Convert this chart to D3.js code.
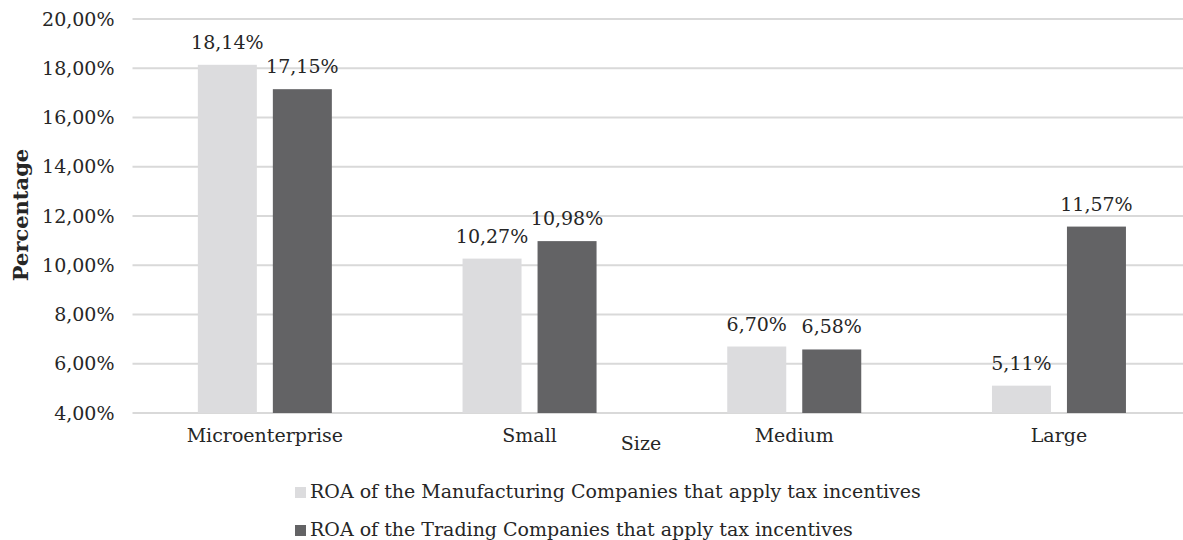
<!DOCTYPE html>
<html>
<head>
    <title>ROA by Size</title>
    <meta charset="utf-8">
    <style>
        body { margin: 0; background: #fff; }
        text { font-family: "DejaVu Serif", serif; fill: #262626; }
    </style>
</head>
<body>
<script src="https://d3js.org/d3.v7.min.js"></script>
<script>
    // Data
    const categories = ['Microenterprise', 'Small', 'Medium', 'Large'];
    const seriesNames = [
        'ROA of the Manufacturing Companies that apply tax incentives',
        'ROA of the Trading Companies that apply tax incentives'
    ];
    const manufacturing = [18.14, 10.27, 6.70, 5.11];
    const trading = [17.15, 10.98, 6.58, 11.57];
    const yTicks = [4, 6, 8, 10, 12, 14, 16, 18, 20];

    const SIZES = {
        WIDTH: 1183,
        HEIGHT: 540,
        LEFT: 132.5,
        RIGHT: 1191.3,
        TOP: 19,
        BOTTOM: 413,
        FONT: '19px'
    };
    const COLORS = ['#dcdcde', '#636365'];
    const fmt = v => v.toFixed(2).replace('.', ',') + '%';

    const svg = d3.select('body').append('svg')
        .attr('width', SIZES.WIDTH)
        .attr('height', SIZES.HEIGHT);

    // Scales
    const x0 = d3.scaleBand().domain(categories).range([SIZES.LEFT, SIZES.RIGHT]);
    const bw = x0.bandwidth();
    const x1 = d3.scaleBand().domain(d3.range(seriesNames.length))
        .range([bw / 2 - 67, bw / 2 + 67])
        .paddingInner(0.2133);
    const y = d3.scaleLinear().domain([4, 20]).range([SIZES.BOTTOM, SIZES.TOP]);

    // Gridlines
    svg.append('g').selectAll('line')
        .data(yTicks)
        .enter().append('line')
        .attr('x1', SIZES.LEFT).attr('x2', SIZES.WIDTH)
        .attr('y1', d => y(d)).attr('y2', d => y(d))
        .attr('stroke', '#d9d9d9')
        .attr('stroke-width', 2);

    // Y axis labels
    const yAxis = svg.append('g')
        .attr('transform', `translate(${SIZES.LEFT - 18},0)`)
        .call(d3.axisLeft(y).tickValues(yTicks).tickSize(0).tickPadding(0).tickFormat(fmt));
    yAxis.select('.domain').remove();
    yAxis.selectAll('text')
        .style('font-family', '"DejaVu Serif", serif')
        .style('font-size', SIZES.FONT)
        .attr('fill', '#262626');

    // X axis labels
    const xAxis = svg.append('g')
        .attr('transform', `translate(0,${SIZES.BOTTOM})`)
        .call(d3.axisBottom(x0).tickSize(0).tickPadding(16));
    xAxis.select('.domain').remove();
    xAxis.selectAll('text')
        .style('font-family', '"DejaVu Serif", serif')
        .style('font-size', SIZES.FONT)
        .attr('fill', '#262626');

    // Bars
    const rows = categories.map((c, i) => ({cat: c, values: [manufacturing[i], trading[i]]}));
    const groups = svg.append('g').selectAll('g')
        .data(rows)
        .enter().append('g')
        .attr('transform', d => `translate(${x0(d.cat)},0)`);

    groups.selectAll('rect')
        .data(d => d.values.map((v, s) => ({v, s})))
        .enter().append('rect')
        .attr('x', d => x1(d.s))
        .attr('width', x1.bandwidth())
        .attr('y', d => y(d.v))
        .attr('height', d => y(4) - y(d.v))
        .attr('fill', d => COLORS[d.s]);

    // Value labels
    groups.selectAll('text.value')
        .data(d => d.values.map((v, s) => ({v, s})))
        .enter().append('text')
        .attr('class', 'value')
        .attr('x', d => x1(d.s) + x1.bandwidth() / 2)
        .attr('y', d => y(d.v) - 16)
        .attr('text-anchor', 'middle')
        .style('font-size', SIZES.FONT)
        .text(d => fmt(d.v));

    // Axis titles
    svg.append('text')
        .attr('transform', 'translate(28,215) rotate(-90)')
        .attr('text-anchor', 'middle')
        .style('font-size', '21px')
        .style('font-weight', 'bold')
        .text('Percentage');

    svg.append('text')
        .attr('x', 641).attr('y', 450)
        .attr('text-anchor', 'middle')
        .style('font-size', SIZES.FONT)
        .text('Size');

    // Legend
    const legend = svg.append('g').selectAll('g')
        .data(seriesNames)
        .enter().append('g')
        .attr('transform', (d, i) => `translate(295,${498 + i * 38})`);
    legend.append('rect')
        .attr('y', -11).attr('width', 11).attr('height', 11)
        .attr('fill', (d, i) => COLORS[i]);
    legend.append('text')
        .attr('x', 15)
        .style('font-size', SIZES.FONT)
        .text(d => d);
</script>
</body>
</html>
